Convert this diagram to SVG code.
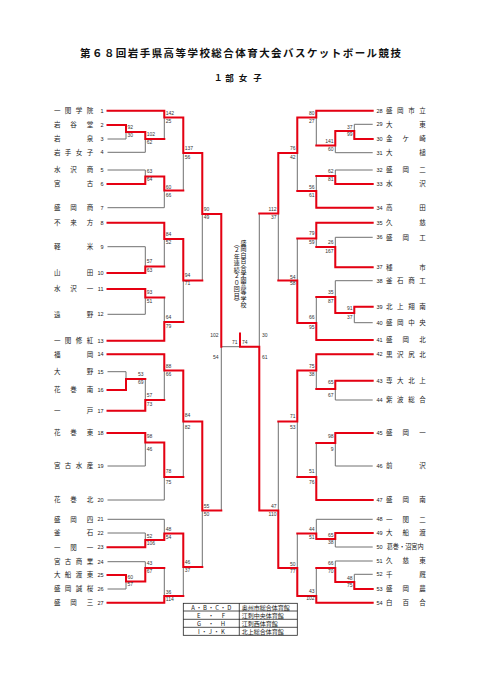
<svg xmlns="http://www.w3.org/2000/svg" width="481" height="680" viewBox="0 0 481 680">
<style>
.bg{fill:#fff}
.g{fill:none;stroke:#707070;stroke-width:1}
.r{fill:none;stroke:#e60012;stroke-width:2;stroke-linejoin:miter;stroke-linecap:square}
.nm{font-family:"Noto Sans CJK JP","Noto Sans CJK SC",sans-serif;font-size:6.5px;fill:#222;text-anchor:middle}
.nms{font-family:"Noto Sans CJK JP","Noto Sans CJK SC",sans-serif;font-size:6.5px;fill:#222;text-anchor:start}
.no{font-family:"Liberation Sans",Arial,sans-serif;font-size:5.5px;fill:#222}
.sc{font-family:"Liberation Sans",Arial,sans-serif;font-size:5px;fill:#333}
.scL{text-anchor:start}
.scR{text-anchor:end}
.tt{font-family:"Noto Sans CJK JP","Noto Sans CJK SC",sans-serif;fill:#111}
.vt{font-family:"Noto Sans CJK JP","Noto Sans CJK SC",sans-serif;font-size:6px;fill:#111;writing-mode:vertical-rl}
.lg{font-family:"Noto Sans CJK JP","Liberation Sans",sans-serif;font-size:6px;fill:#222}
.tb{fill:none;stroke:#222;stroke-width:0.8}
</style>
<rect class="bg" x="0" y="0" width="481" height="680"/>

<g id="title">
<text class="tt" x="240.5" y="57" font-size="10.5" font-weight="700" text-anchor="middle" textLength="321" lengthAdjust="spacing">第６８回岩手県高等学校総合体育大会バスケットボール競技</text>
<text class="tt" x="218.3 229.5 243 257.5" y="81" font-size="8.5" font-weight="700" text-anchor="middle">１部女子</text>
</g>

<g id="connectors">
<path class="g" d="M107.5 110.7H164.3M107.5 125H126M107.5 139H126M107.5 152.3H145.3M107.5 170H145.3M107.5 184H145.3M107.5 207.7H164.3M107.5 222.7H164.3M107.5 246.7H145.3M107.5 273H145.3M107.5 289H145.3M107.5 314.3H145.3M107.5 340.7H164.3M107.5 354.3H164.3M107.5 371.7H126M107.5 390H126M107.5 410.7H145.3M107.5 433H145.3M107.5 466H145.3M107.5 500H164.3M107.5 519.3H164.3M107.5 533H145.3M107.5 547.3H145.3M107.5 561.7H145.3M107.5 575H126M107.5 589H126M107.5 602.7H164.3"/>
<path class="g" d="M126 125V139M126 132H145.3M145.3 132V152.3M145.3 139H164.3M164.3 110.7V139M164.3 117.5H183.3M145.3 170V184M145.3 176.5H164.3M164.3 176.5V207.7M164.3 190.5H183.3M183.3 117.5V190.5M183.3 153H202.3M145.3 246.7V273M145.3 266.5H164.3M164.3 222.7V266.5M164.3 239H183.3M145.3 289V314.3M145.3 297.5H164.3M164.3 297.5V340.7M164.3 322H183.3M183.3 239V322M183.3 280.5H202.3M202.3 153V280.5M202.3 214H221.3M126 371.7V390M126 379H145.3M145.3 379V410.7M145.3 400H164.3M164.3 354.3V400M164.3 370.5H183.3M145.3 433V466M145.3 442.5H164.3M164.3 442.5V500M164.3 477H183.3M183.3 370.5V477M183.3 421.5H202.3M145.3 533V547.3M145.3 540H164.3M164.3 519.3V540M164.3 533.5H183.3M126 575V589M126 581.5H145.3M145.3 561.7V581.5M145.3 568H164.3M164.3 568V602.7M164.3 596H183.3M183.3 533.5V596M183.3 567H202.3M202.3 421.5V567M202.3 510.5H221.3M221.3 214V510.5M221.3 346.7H240"/>
<path class="g" d="M372.7 110.7H316.3M372.7 124.3H354.3M372.7 139H354.3M372.7 152.7H335.3M372.7 170H335.3M372.7 184H335.3M372.7 207.7H316.3M372.7 222.7H316.3M372.7 237.3H335.3M372.7 267.3H335.3M372.7 280.7H335.3M372.7 306.7H354.3M372.7 322.7H354.3M372.7 340H316.3M372.7 354.3H316.3M372.7 380.7H335.3M372.7 400H335.3M372.7 433H335.3M372.7 466H335.3M372.7 500H316.3M372.7 519.3H316.3M372.7 533H335.3M372.7 547H335.3M372.7 561H335.3M372.7 574.3H354.3M372.7 589H354.3M372.7 602.7H316.3"/>
<path class="g" d="M354.3 124.3V139M354.3 131H335.3M335.3 131V152.7M335.3 145.5H316.3M316.3 110.7V145.5M316.3 117.5H297.3M335.3 170V184M335.3 176H316.3M316.3 176V207.7M316.3 191H297.3M297.3 117.5V191M297.3 153H278.3M335.3 237.3V267.3M335.3 247H316.3M316.3 222.7V247M316.3 238.5H297.3M354.3 306.7V322.7M354.3 313H335.3M335.3 280.7V313M335.3 297H316.3M316.3 297V340M316.3 323H297.3M297.3 238.5V323M297.3 280.5H278.3M278.3 153V280.5M278.3 213.5H259.3M335.3 380.7V400M335.3 389H316.3M316.3 354.3V389M316.3 370.5H297.3M335.3 433V466M335.3 443H316.3M316.3 443V500M316.3 477H297.3M297.3 370.5V477M297.3 421.5H278.3M335.3 533V547M335.3 539H316.3M316.3 519.3V539M316.3 533.5H297.3M354.3 574.3V589M354.3 582H335.3M335.3 561V582M335.3 568H316.3M316.3 568V602.7M316.3 596H297.3M297.3 533.5V596M297.3 568H278.3M278.3 421.5V568M278.3 510.5H259.3M259.3 213.5V510.5M259.3 346.7H240"/>
<path class="r" d="M107.5 110.7H164.3V117.5H183.3V153H202.3V214H221.3V346.7"/>
<path class="r" d="M107.5 125H126V132H145.3V139H164.3"/>
<path class="r" d="M107.5 184H145.3V176.5H164.3V190.5H183.3"/>
<path class="r" d="M107.5 222.7H164.3V239H183.3V280.5H202.3"/>
<path class="r" d="M107.5 273H145.3V266.5H164.3"/>
<path class="r" d="M107.5 289H145.3V297.5H164.3"/>
<path class="r" d="M107.5 340.7H164.3V322H183.3"/>
<path class="r" d="M107.5 354.3H164.3V370.5H183.3V421.5H202.3V510.5H221.3"/>
<path class="r" d="M107.5 390H126V379H145.3"/>
<path class="r" d="M107.5 410.7H145.3V400H164.3"/>
<path class="r" d="M107.5 433H145.3V442.5H164.3V477H183.3"/>
<path class="r" d="M107.5 547.3H145.3V540H164.3V533.5H183.3V567H202.3"/>
<path class="r" d="M107.5 575H126V581.5H145.3V568H164.3"/>
<path class="r" d="M107.5 602.7H164.3V596H183.3"/>
<path class="r" d="M372.7 110.7H316.3V117.5H297.3V153H278.3V213.5H259.3"/>
<path class="r" d="M372.7 139H354.3V131H335.3V145.5H316.3"/>
<path class="r" d="M372.7 184H335.3V176H316.3"/>
<path class="r" d="M372.7 207.7H316.3V191H297.3"/>
<path class="r" d="M372.7 222.7H316.3V238.5H297.3"/>
<path class="r" d="M372.7 267.3H335.3V247H316.3"/>
<path class="r" d="M372.7 306.7H354.3V313H335.3V297H316.3"/>
<path class="r" d="M372.7 340H316.3V323H297.3V280.5H278.3"/>
<path class="r" d="M372.7 354.3H316.3V370.5H297.3V421.5H278.3"/>
<path class="r" d="M372.7 380.7H335.3V389H316.3"/>
<path class="r" d="M372.7 433H335.3V443H316.3"/>
<path class="r" d="M372.7 500H316.3V477H297.3"/>
<path class="r" d="M372.7 533H335.3V539H316.3V533.5H297.3"/>
<path class="r" d="M372.7 589H354.3V582H335.3V568H316.3"/>
<path class="r" d="M372.7 602.7H316.3V596H297.3V568H278.3V510.5H259.3V346.7H240V333.5"/>
</g>

<g id="scores">
<g class="sc scL">
<text x="127.5" y="128.7">92</text><text x="127.5" y="136.5">30</text>
<text x="146.7" y="136">102</text><text x="146.7" y="144.3">62</text>
<text x="165.8" y="115">142</text><text x="165.8" y="122.7">25</text>
<text x="146.7" y="173">63</text><text x="146.7" y="181">64</text>
<text x="165.8" y="188.7">60</text><text x="165.8" y="197">66</text>
<text x="184.8" y="150">137</text><text x="184.8" y="159.3">56</text>
<text x="146.7" y="263">57</text><text x="146.7" y="272">63</text>
<text x="165.8" y="236">84</text><text x="165.8" y="244">52</text>
<text x="146.7" y="294">93</text><text x="146.7" y="303">51</text>
<text x="165.8" y="319">64</text><text x="165.8" y="327.7">79</text>
<text x="184.8" y="277">94</text><text x="184.8" y="285">71</text>
<text x="203.8" y="210.7">90</text><text x="203.8" y="219">49</text>
<text x="146.7" y="397">57</text><text x="146.7" y="406">73</text>
<text x="165.8" y="367.7">88</text><text x="165.8" y="376">66</text>
<text x="146.7" y="437.7">98</text><text x="146.7" y="451">46</text>
<text x="165.8" y="472.7">78</text><text x="165.8" y="484.3">75</text>
<text x="184.8" y="417">84</text><text x="184.8" y="429">82</text>
<text x="146.7" y="538">52</text><text x="146.7" y="545">106</text>
<text x="165.8" y="531">48</text><text x="165.8" y="539">54</text>
<text x="127.5" y="579">60</text><text x="127.5" y="586">57</text>
<text x="146.7" y="565">43</text><text x="146.7" y="573">67</text>
<text x="165.8" y="594">36</text><text x="165.8" y="600.5">114</text>
<text x="184.8" y="564">46</text><text x="184.8" y="572">37</text>
<text x="203.8" y="507.7">55</text><text x="203.8" y="516">50</text>
<text x="262" y="337">30</text><text x="262" y="359">61</text>
<text x="242" y="344">74</text>
</g>
<g class="sc scR">
<text x="143.5" y="376">53</text><text x="143.5" y="384.3">69</text>
<text x="218.5" y="337">102</text><text x="218.5" y="359">54</text>
<text x="237.5" y="344">71</text>
<text x="352.5" y="128.7">37</text><text x="352.5" y="136">99</text>
<text x="333.5" y="142.7">141</text><text x="333.5" y="151">60</text>
<text x="314.5" y="115">80</text><text x="314.5" y="122.7">27</text>
<text x="333.5" y="173">62</text><text x="333.5" y="181">81</text>
<text x="314.5" y="188.7">56</text><text x="314.5" y="197">61</text>
<text x="295.5" y="150">76</text><text x="295.5" y="158.7">42</text>
<text x="333.5" y="244">26</text><text x="333.5" y="252.7">167</text>
<text x="314.5" y="235">79</text><text x="314.5" y="244">59</text>
<text x="352.5" y="310">91</text><text x="352.5" y="318.7">37</text>
<text x="333.5" y="294">35</text><text x="333.5" y="302.7">87</text>
<text x="314.5" y="319">66</text><text x="314.5" y="329">95</text>
<text x="295.5" y="278.7">54</text><text x="295.5" y="285">58</text>
<text x="276.5" y="211">112</text><text x="276.5" y="218.7">37</text>
<text x="333.5" y="384">65</text><text x="333.5" y="396.7">67</text>
<text x="314.5" y="367.7">75</text><text x="314.5" y="376">38</text>
<text x="333.5" y="438">98</text><text x="333.5" y="451">9</text>
<text x="314.5" y="472.7">51</text><text x="314.5" y="484.3">76</text>
<text x="295.5" y="417.7">71</text><text x="295.5" y="428.7">53</text>
<text x="333.5" y="537">65</text><text x="333.5" y="544.3">38</text>
<text x="314.5" y="531">44</text><text x="314.5" y="539">51</text>
<text x="352.5" y="580">48</text><text x="352.5" y="587">75</text>
<text x="333.5" y="565">66</text><text x="333.5" y="573">70</text>
<text x="314.5" y="593">43</text><text x="314.5" y="600">102</text>
<text x="295.5" y="566">50</text><text x="295.5" y="573">77</text>
<text x="276.5" y="507.7">47</text><text x="276.5" y="516">110</text>
</g>
</g>

<g id="champion">
<text class="vt" x="243.5" y="239.5" letter-spacing="0.2">盛岡白百合学園高等学校</text>
<text class="vt" x="236.8" y="240.5" letter-spacing="0.5">（２年連続２０回目）</text>
</g>

<g id="t1"><text class="nm" x="57.2 68.1 79 89.9" y="113">一関学院</text><text class="no" x="103.5" y="112.5" text-anchor="end">1</text></g>
<g id="t2"><text class="nm" x="57.2 73.5 89.9" y="127.3">岩谷堂</text><text class="no" x="103.5" y="126.8" text-anchor="end">2</text></g>
<g id="t3"><text class="nm" x="57.2 89.9" y="141.3">岩泉</text><text class="no" x="103.5" y="140.8" text-anchor="end">3</text></g>
<g id="t4"><text class="nm" x="57.2 68.1 79 89.9" y="154.6">岩手女子</text><text class="no" x="103.5" y="154.1" text-anchor="end">4</text></g>
<g id="t5"><text class="nm" x="57.2 73.5 89.9" y="172.3">水沢商</text><text class="no" x="103.5" y="171.8" text-anchor="end">5</text></g>
<g id="t6"><text class="nm" x="57.2 89.9" y="186.3">宮古</text><text class="no" x="103.5" y="185.8" text-anchor="end">6</text></g>
<g id="t7"><text class="nm" x="57.2 73.5 89.9" y="210">盛岡商</text><text class="no" x="103.5" y="209.5" text-anchor="end">7</text></g>
<g id="t8"><text class="nm" x="57.2 73.5 89.9" y="225">不来方</text><text class="no" x="103.5" y="224.5" text-anchor="end">8</text></g>
<g id="t9"><text class="nm" x="57.2 89.9" y="249">軽米</text><text class="no" x="103.5" y="248.5" text-anchor="end">9</text></g>
<g id="t10"><text class="nm" x="57.2 89.9" y="275.3">山田</text><text class="no" x="103.5" y="274.8" text-anchor="end">10</text></g>
<g id="t11"><text class="nm" x="57.2 73.5 89.9" y="291.3">水沢一</text><text class="no" x="103.5" y="290.8" text-anchor="end">11</text></g>
<g id="t12"><text class="nm" x="57.2 89.9" y="316.6">遠野</text><text class="no" x="103.5" y="316.1" text-anchor="end">12</text></g>
<g id="t13"><text class="nm" x="57.2 68.1 79 89.9" y="343">一関修紅</text><text class="no" x="103.5" y="342.5" text-anchor="end">13</text></g>
<g id="t14"><text class="nm" x="57.2 89.9" y="356.6">福岡</text><text class="no" x="103.5" y="356.1" text-anchor="end">14</text></g>
<g id="t15"><text class="nm" x="57.2 89.9" y="374">大野</text><text class="no" x="103.5" y="373.5" text-anchor="end">15</text></g>
<g id="t16"><text class="nm" x="57.2 73.5 89.9" y="392.3">花巻南</text><text class="no" x="103.5" y="391.8" text-anchor="end">16</text></g>
<g id="t17"><text class="nm" x="57.2 89.9" y="413">一戸</text><text class="no" x="103.5" y="412.5" text-anchor="end">17</text></g>
<g id="t18"><text class="nm" x="57.2 73.5 89.9" y="435.3">花巻東</text><text class="no" x="103.5" y="434.8" text-anchor="end">18</text></g>
<g id="t19"><text class="nm" x="57.2 68.1 79 89.9" y="468.3">宮古水産</text><text class="no" x="103.5" y="467.8" text-anchor="end">19</text></g>
<g id="t20"><text class="nm" x="57.2 73.5 89.9" y="502.3">花巻北</text><text class="no" x="103.5" y="501.8" text-anchor="end">20</text></g>
<g id="t21"><text class="nm" x="57.2 73.5 89.9" y="521.6">盛岡四</text><text class="no" x="103.5" y="521.1" text-anchor="end">21</text></g>
<g id="t22"><text class="nm" x="57.2 89.9" y="535.3">釜石</text><text class="no" x="103.5" y="534.8" text-anchor="end">22</text></g>
<g id="t23"><text class="nm" x="57.2 73.5 89.9" y="549.6">一関一</text><text class="no" x="103.5" y="549.1" text-anchor="end">23</text></g>
<g id="t24"><text class="nm" x="57.2 68.1 79 89.9" y="564">宮古商業</text><text class="no" x="103.5" y="563.5" text-anchor="end">24</text></g>
<g id="t25"><text class="nm" x="57.2 68.1 79 89.9" y="577.3">大船渡東</text><text class="no" x="103.5" y="576.8" text-anchor="end">25</text></g>
<g id="t26"><text class="nm" x="57.2 68.1 79 89.9" y="591.3">盛岡誠桜</text><text class="no" x="103.5" y="590.8" text-anchor="end">26</text></g>
<g id="t27"><text class="nm" x="57.2 73.5 89.9" y="605">盛岡三</text><text class="no" x="103.5" y="604.5" text-anchor="end">27</text></g>

<g id="t28"><text class="no" x="376.5" y="112.5">28</text><text class="nm" x="389.2 400.3 411.4 422.5" y="113">盛岡市立</text></g>
<g id="t29"><text class="no" x="376.5" y="126.1">29</text><text class="nm" x="389.2 422.5" y="126.6">大東</text></g>
<g id="t30"><text class="no" x="376.5" y="140.8">30</text><text class="nm" x="389.2 405.8 422.5" y="141.3">金ケ崎</text></g>
<g id="t31"><text class="no" x="376.5" y="154.5">31</text><text class="nm" x="389.2 422.5" y="155">大槌</text></g>
<g id="t32"><text class="no" x="376.5" y="171.8">32</text><text class="nm" x="389.2 405.8 422.5" y="172.3">盛岡二</text></g>
<g id="t33"><text class="no" x="376.5" y="185.8">33</text><text class="nm" x="389.2 422.5" y="186.3">水沢</text></g>
<g id="t34"><text class="no" x="376.5" y="209.5">34</text><text class="nm" x="389.2 422.5" y="210">高田</text></g>
<g id="t35"><text class="no" x="376.5" y="224.5">35</text><text class="nm" x="389.2 422.5" y="225">久慈</text></g>
<g id="t36"><text class="no" x="376.5" y="239.1">36</text><text class="nm" x="389.2 405.8 422.5" y="239.6">盛岡工</text></g>
<g id="t37"><text class="no" x="376.5" y="269.1">37</text><text class="nm" x="389.2 422.5" y="269.6">種市</text></g>
<g id="t38"><text class="no" x="376.5" y="282.5">38</text><text class="nm" x="389.2 400.3 411.4 422.5" y="283">釜石商工</text></g>
<g id="t39"><text class="no" x="376.5" y="308.5">39</text><text class="nm" x="389.2 400.3 411.4 422.5" y="309">北上翔南</text></g>
<g id="t40"><text class="no" x="376.5" y="324.5">40</text><text class="nm" x="389.2 400.3 411.4 422.5" y="325">盛岡中央</text></g>
<g id="t41"><text class="no" x="376.5" y="341.8">41</text><text class="nm" x="389.2 405.8 422.5" y="342.3">盛岡北</text></g>
<g id="t42"><text class="no" x="376.5" y="356.1">42</text><text class="nm" x="389.2 400.3 411.4 422.5" y="356.6">黒沢尻北</text></g>
<g id="t43"><text class="no" x="376.5" y="382.5">43</text><text class="nm" x="389.2 400.3 411.4 422.5" y="383">専大北上</text></g>
<g id="t44"><text class="no" x="376.5" y="401.8">44</text><text class="nm" x="389.2 400.3 411.4 422.5" y="402.3">紫波総合</text></g>
<g id="t45"><text class="no" x="376.5" y="434.8">45</text><text class="nm" x="389.2 405.8 422.5" y="435.3">盛岡一</text></g>
<g id="t46"><text class="no" x="376.5" y="467.8">46</text><text class="nm" x="389.2 422.5" y="468.3">前沢</text></g>
<g id="t47"><text class="no" x="376.5" y="501.8">47</text><text class="nm" x="389.2 405.8 422.5" y="502.3">盛岡南</text></g>
<g id="t48"><text class="no" x="376.5" y="521.1">48</text><text class="nm" x="389.2 405.8 422.5" y="521.6">一関二</text></g>
<g id="t49"><text class="no" x="376.5" y="534.8">49</text><text class="nm" x="389.2 405.8 422.5" y="535.3">大船渡</text></g>
<g id="t50"><text class="no" x="376.5" y="548.8">50</text><text class="nms" x="386.7" y="549.3" textLength="37" lengthAdjust="spacingAndGlyphs">葛巻・沼宮内</text></g>
<g id="t51"><text class="no" x="376.5" y="562.8">51</text><text class="nm" x="389.2 405.8 422.5" y="563.3">久慈東</text></g>
<g id="t52"><text class="no" x="376.5" y="576.1">52</text><text class="nm" x="389.2 422.5" y="576.6">千厩</text></g>
<g id="t53"><text class="no" x="376.5" y="590.8">53</text><text class="nm" x="389.2 405.8 422.5" y="591.3">盛岡農</text></g>
<g id="t54"><text class="no" x="376.5" y="604.5">54</text><text class="nm" x="389.2 405.8 422.5" y="605">白百合</text></g>

<g id="legend">
<rect class="tb" x="183.3" y="603.3" width="114" height="32"/>
<path class="tb" d="M183.3 611H297.3M183.3 619.3H297.3M183.3 627.3H297.3M239.3 603.3V635.3"/>
<text class="lg" x="211.3" y="609.5" text-anchor="middle" textLength="40" lengthAdjust="spacing">A・B・C・D</text>
<text class="lg" x="211" y="617.6" text-anchor="middle" textLength="28" lengthAdjust="spacing">E ・ F</text>
<text class="lg" x="211" y="625.6" text-anchor="middle" textLength="28" lengthAdjust="spacing">G ・ H</text>
<text class="lg" x="211.5" y="633.6" text-anchor="middle" textLength="27" lengthAdjust="spacing">I・J・K</text>
<text class="lg" x="241.7" y="609.5">奥州市総合体育館</text>
<text class="lg" x="241.7" y="617.6">江刺中央体育館</text>
<text class="lg" x="241.7" y="625.6">江刺西体育館</text>
<text class="lg" x="241.7" y="633.6">北上総合体育館</text>
</g>
</svg>
